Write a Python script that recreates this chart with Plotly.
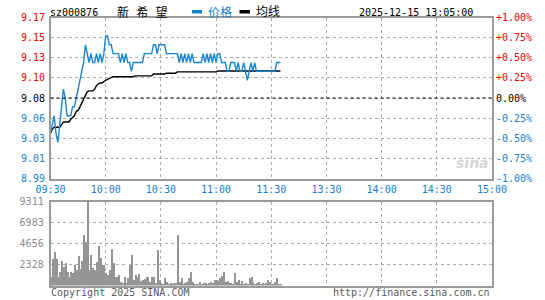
import plotly.graph_objects as go

# ---------------- data ----------------
prev_close = 9.08
stock_code = "sz000876"
stock_name = "新 希 望"
timestamp = "2025-12-15 13:05:00"
time_labels = ["09:30", "10:00", "10:30", "11:00", "11:30", "13:30", "14:00", "14:30", "15:00"]
session_minutes = 240

price = [
    9.04, 9.05, 9.06, 9.04, 9.03, 9.05, 9.07, 9.09, 9.08, 9.06,
    9.06, 9.06, 9.07, 9.07, 9.08, 9.09, 9.10, 9.11, 9.12, 9.14,
    9.13, 9.12, 9.13, 9.12, 9.12, 9.13, 9.12, 9.13, 9.12, 9.13,
    9.15, 9.15, 9.14, 9.14, 9.13, 9.13, 9.13, 9.13, 9.12, 9.13,
    9.12, 9.13, 9.12, 9.12, 9.11, 9.12, 9.12, 9.12, 9.12, 9.12,
    9.12, 9.13, 9.13, 9.13, 9.13, 9.13, 9.14, 9.14, 9.13, 9.14,
    9.14, 9.14, 9.14, 9.13, 9.13, 9.13, 9.13, 9.13, 9.13, 9.13,
    9.12, 9.13, 9.12, 9.13, 9.12, 9.13, 9.12, 9.13, 9.12, 9.12,
    9.12, 9.12, 9.12, 9.13, 9.12, 9.13, 9.12, 9.13, 9.12, 9.13,
    9.12, 9.13, 9.13, 9.12, 9.12, 9.12, 9.11, 9.11, 9.12, 9.12,
    9.12, 9.11, 9.12, 9.11, 9.11, 9.12, 9.11, 9.10, 9.11, 9.12,
    9.11, 9.12, 9.11, 9.11, 9.11, 9.11, 9.11, 9.11, 9.11, 9.11,
    9.11, 9.11, 9.11, 9.12, 9.12, 9.12,
]

avg_price = [
    9.040, 9.045, 9.047, 9.047, 9.047, 9.047, 9.050, 9.053, 9.053, 9.053,
    9.053, 9.056, 9.058, 9.060, 9.065, 9.066, 9.070, 9.075, 9.080, 9.083,
    9.087, 9.088, 9.088, 9.088, 9.090, 9.094, 9.096, 9.097, 9.097, 9.099,
    9.100, 9.101, 9.102, 9.103, 9.104, 9.104, 9.104, 9.104, 9.104, 9.104,
    9.104, 9.104, 9.104, 9.104, 9.104, 9.104, 9.105, 9.105, 9.105, 9.105,
    9.105, 9.105, 9.105, 9.105, 9.105, 9.105, 9.107, 9.107, 9.107, 9.107,
    9.107, 9.107, 9.107, 9.108, 9.108, 9.108, 9.108, 9.108, 9.108, 9.1095,
    9.1095, 9.1095, 9.1095, 9.1095, 9.1095, 9.1095, 9.1095, 9.1095, 9.1095, 9.1095,
    9.1095, 9.1095, 9.1095, 9.1095, 9.1095, 9.1095, 9.1095, 9.1095, 9.1095, 9.1095,
    9.1095, 9.1105, 9.1105, 9.1105, 9.1105, 9.1105, 9.1105, 9.1105, 9.1105, 9.1105,
    9.1105, 9.1105, 9.1105, 9.1105, 9.1105, 9.1105, 9.1105, 9.1105, 9.1105, 9.1105,
    9.1105, 9.1105, 9.1105, 9.1105, 9.1105, 9.1105, 9.1105, 9.1105, 9.1105, 9.1105,
    9.1105, 9.1105, 9.1105, 9.1105, 9.1105, 9.1105,
]

volume = [
    1035, 3030, 3806, 2956, 1035, 1589, 2771, 2143, 2587, 1589,
    1035, 1589, 1478, 2328, 1737, 3326, 1848, 2771, 5616, 4914,
    9311, 1737, 3437, 2032, 1737, 2697, 4434, 3141, 2328, 2328,
    1478, 1182, 1737, 4138, 2587, 1035, 1035, 1182, 480, 370,
    1035, 370, 850, 2328, 3400, 628, 1182, 1035, 1367, 554,
    628, 739, 1035, 1035, 480, 1035, 1035, 296, 3954, 628,
    370, 259, 924,
    450, 262, 375, 190, 375, 340, 5650, 490, 940, 190,
    375, 490, 940, 1500, 450, 262, 190, 262, 490, 262,
    375, 340, 262, 300, 490, 340, 640, 640, 560, 860,
    1125, 1575, 490, 560, 340, 340, 262, 1390, 490, 640,
    190, 560, 262, 375, 262, 860, 1050, 490, 190, 340,
    450, 190, 375, 190, 300, 675, 490, 262, 262, 450,
    940, 262, 262,
]

minutes = list(range(len(price)))

# ---------------- styling ----------------
W, H = 545, 300
RED = "#f00000"
BLUE = "#1580cf"
LINE_BLUE = "#1a85d0"
FRAME = "#9a9a9a"
GRID = "#ababab"
MONO = "DejaVu Sans Mono"
CJK = "DejaVu Sans Mono, Noto Sans CJK SC"

left_px, right_px = 50.5, 492
p_top, p_bot = 17.5, 178.5
v_top, v_bot = 201.5, 285.5


def px_x(x):
    return x / W


def px_y(y):
    return (H - y) / H


fig = go.Figure()

fig.add_trace(go.Bar(
    x=minutes, y=volume, xaxis="x2", yaxis="y2",
    marker=dict(color="#959595", line=dict(width=0)), width=0.55,
    showlegend=False, hoverinfo="skip",
))
fig.add_trace(go.Scatter(
    x=minutes, y=avg_price, mode="lines", name="均线",
    line=dict(color="#000000", width=1.4), showlegend=False,
))
fig.add_trace(go.Scatter(
    x=minutes, y=price, mode="lines", name="价格",
    line=dict(color=LINE_BLUE, width=1.4), showlegend=False,
))

steps = [k * 0.0025 for k in range(-4, 5)]
price_ticks = [prev_close * (1 + s) for s in steps]
vmax = max(volume)
vol_ticks = [vmax * k / 4 for k in range(1, 5)]
xticks = [session_minutes * i / (len(time_labels) - 1) for i in range(len(time_labels))]

axis_common = dict(
    showline=True, mirror=True, linecolor=FRAME, linewidth=1.6,
    showgrid=True, gridcolor=GRID, griddash="dot", gridwidth=1,
    zeroline=False, ticks="", automargin=False,
)

fig.update_layout(
    width=W, height=H,
    margin=dict(l=0, r=0, t=0, b=0, autoexpand=False),
    paper_bgcolor="white", plot_bgcolor="white",
    bargap=0,
    xaxis=dict(
        domain=[px_x(left_px), px_x(right_px)], range=[0, session_minutes],
        tickvals=xticks, ticktext=time_labels, anchor="y",
        tickfont=dict(family=MONO, size=10, color=BLUE),
        ticklabelstandoff=1,
        **axis_common,
    ),
    yaxis=dict(
        domain=[px_y(p_bot), px_y(p_top)],
        range=[price_ticks[0], price_ticks[-1]],
        tickvals=price_ticks, showticklabels=False, anchor="x",
        **axis_common,
    ),
    xaxis2=dict(
        domain=[px_x(left_px), px_x(right_px)], range=[0, session_minutes],
        tickvals=xticks, showticklabels=False, anchor="y2",
        **axis_common,
    ),
    yaxis2=dict(
        domain=[px_y(v_bot), px_y(v_top)], range=[0, vmax],
        tickvals=vol_ticks, ticktext=[str(round(v)) for v in vol_ticks],
        tickfont=dict(family=MONO, size=10, color="#8c8c8c"),
        ticklabelstandoff=3, anchor="x2",
        **axis_common,
    ),
)

# previous-close reference line
fig.add_shape(
    type="line", xref="x domain", yref="y", x0=0, x1=1,
    y0=prev_close, y1=prev_close,
    line=dict(color="#000000", width=1.2, dash="3px,3px"),
)

annotations = []
for s, v in zip(steps, price_ticks):
    col = RED if s > 0 else ("#000000" if s == 0 else BLUE)
    pct = "0.00%" if s == 0 else f"{s * 100:+.2f}%"
    annotations.append(dict(
        x=px_x(47), y=v, xref="paper", yref="y", xanchor="right", yanchor="middle",
        text=f"{v:.2f}", showarrow=False, font=dict(family=MONO, size=10, color=col),
    ))
    annotations.append(dict(
        x=px_x(494), y=v, xref="paper", yref="y", xanchor="left", yanchor="middle",
        text=pct, showarrow=False, font=dict(family=MONO, size=10, color=col),
    ))

hy = px_y(12)
annotations += [
    dict(x=px_x(47.5), y=hy, xref="paper", yref="paper", xanchor="left", yanchor="middle",
         text=stock_code, showarrow=False, font=dict(family=MONO, size=10, color="#000")),
    dict(x=px_x(115), y=hy, xref="paper", yref="paper", xanchor="left", yanchor="middle",
         text=stock_name, showarrow=False, font=dict(family=CJK, size=12, color="#000")),
    dict(x=px_x(206), y=hy, xref="paper", yref="paper", xanchor="left", yanchor="middle",
         text="价格", showarrow=False, font=dict(family=CJK, size=12, color=BLUE)),
    dict(x=px_x(254), y=hy, xref="paper", yref="paper", xanchor="left", yanchor="middle",
         text="均线", showarrow=False, font=dict(family=CJK, size=12, color="#000")),
    dict(x=px_x(475), y=hy, xref="paper", yref="paper", xanchor="right", yanchor="middle",
         text=timestamp, showarrow=False, font=dict(family=MONO, size=10, color="#000")),
    dict(x=px_x(49), y=px_y(292.5), xref="paper", yref="paper", xanchor="left", yanchor="middle",
         text="Copyright 2025 SINA.COM", showarrow=False,
         font=dict(family=MONO, size=10, color="#5a5a5a")),
    dict(x=px_x(492), y=px_y(292.5), xref="paper", yref="paper", xanchor="right", yanchor="middle",
         text="http://finance.sina.com.cn", showarrow=False,
         font=dict(family=MONO, size=10, color="#5a5a5a")),
    dict(x=px_x(472), y=px_y(163), xref="paper", yref="paper", xanchor="center", yanchor="middle",
         text="<b><i>sina</i></b>", showarrow=False,
         font=dict(family="DejaVu Sans", size=14, color="#d6d6d6")),
]
fig.update_layout(annotations=annotations)

# legend swatches
fig.add_shape(type="rect", xref="paper", yref="paper",
              x0=px_x(192), x1=px_x(202), y0=px_y(13.5), y1=px_y(10),
              fillcolor=LINE_BLUE, line=dict(width=0))
fig.add_shape(type="rect", xref="paper", yref="paper",
              x0=px_x(239.5), x1=px_x(250), y0=px_y(13.5), y1=px_y(10),
              fillcolor="#000000", line=dict(width=0))

fig.write_html("out.html")
